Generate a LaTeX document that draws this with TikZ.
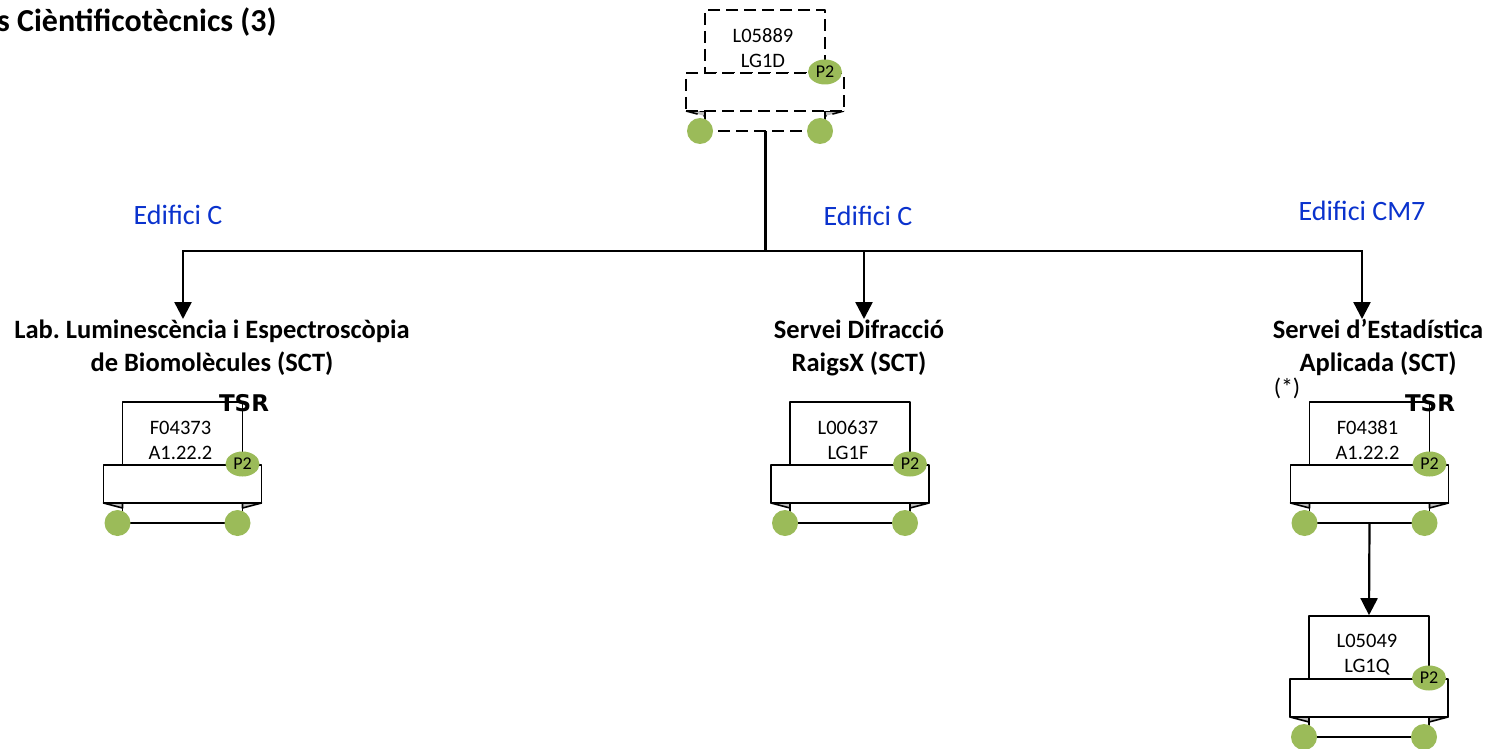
\documentclass[tikz,border=0pt]{standalone}
\usepackage{fontspec}
\setmainfont{Carlito}
\newfontfamily\tsrfont{DejaVu Sans}
\usetikzlibrary{arrows.meta,shapes.geometric}
\definecolor{wgreen}{RGB}{155,187,89}
\definecolor{eblue}{RGB}{10,50,205}
\definecolor{flapgray}{RGB}{190,190,190}
\frenchspacing
\tikzset{
  outl/.style={line width=1.6pt, line join=round},
  paper/.style={draw, fill=white, rectangle, minimum width=120pt, minimum height=63pt, inner sep=0pt, outl},
  band/.style={draw, fill=white, rectangle, minimum width=158pt, minimum height=38pt, inner sep=0pt, outl},
  wheel/.style={circle, fill=wgreen, draw=none, minimum size=26pt, inner sep=0pt},
  ptag/.style={ellipse, fill=wgreen, draw=none, minimum width=34pt, minimum height=25pt, inner sep=0pt, font=\fontsize{18}{20}\selectfont},
  celltext/.style={align=center, inner sep=0pt, font=\fontsize{20.5}{25}\selectfont},
  lbl/.style={align=center, inner sep=0pt, font=\bfseries\fontsize{26.5}{33}\selectfont},
  bldg/.style={text=eblue, inner sep=0pt, font=\fontsize{28}{32}\selectfont},
  tsr/.style={inner sep=0pt, font=\tsrfont\bfseries\fontsize{23}{26}\selectfont},
  trunk/.style={line width=3pt},
  link/.style={line width=2.5pt, -{Triangle[length=17pt,width=17pt]}},
  dashedunit/.style={dash pattern=on 12pt off 6pt}
}
\newcommand\cartunit[6]{%
  \begin{scope}[shift={(#2,#3)}]
    \begin{scope}[#6]
      \node[paper, #6] (#1) at (0,31.5) {};
      \filldraw[outl, fill=flapgray] (-79,101) -- (-60,106) -- (-60,101) -- cycle;
      \filldraw[outl, fill=flapgray] (79,101) -- (60,106) -- (60,101) -- cycle;
      \draw[outl] (-60,101) -- (-60,121) (60,101) -- (60,121);
      \draw[outl] (-65,121) -- (55,121);
      \node[band, #6] (#1-band) at (0,82) {};
    \end{scope}
    \node[celltext] (#1-t) at (-2,38.5) {#4\\#5};
    \node[ptag] (#1-p) at (60,62) {P2};
    \node[wheel] (#1-wl) at (-65,121) {};
    \node[wheel] (#1-wr) at (55,121) {};
    \coordinate (#1-b) at (0,121);
  \end{scope}}
\begin{document}
\begin{tikzpicture}[x=1pt,y=-1pt]
\useasboundingbox (0,0) rectangle (1494,749);

\node[anchor=west, inner sep=0pt, font=\bfseries\fontsize{32}{34}\selectfont] (title) at (-3,22) {s Cièntificotècnics (3)};

\cartunit{top}{765}{10}{L05889}{LG1D}{dashedunit}
\cartunit{ua}{182.5}{402}{F04373}{A1.22.2}{}
\cartunit{ub}{850}{402}{L00637}{LG1F}{}
\cartunit{uc}{1369.5}{402}{F04381}{A1.22.2}{}
\cartunit{ud}{1369}{616}{L05049}{LG1Q}{}

\node[tsr] (tsra) at (244,403) {TSR};
\node[tsr] (tsrc) at (1430,403) {TSR};

\node[bldg] (ba) at (178,215) {Edifici C};
\node[bldg] (bb) at (868,216) {Edifici C};
\node[bldg] (bc) at (1362,211) {Edifici CM7};

\node[lbl] (la) at (212,347.5) {Lab. Luminescència i Espectroscòpia\\de Biomolècules (SCT)};
\node[lbl] (lb) at (859,347.5) {Servei Difracció\\RaigsX (SCT)};
\node[lbl] (lc) at (1378,347.5) {Servei d’Estadística\\Aplicada (SCT)};
\node[inner sep=0pt, font=\fontsize{24}{28}\selectfont] (star) at (1287,388) {(*)};

\coordinate (j) at (765,251);
\coordinate (ea) at (183,319);
\coordinate (eb) at (864,319);
\coordinate (ec) at (1362,319);
\draw[trunk] (top-b) -- (j);
\draw[link] (j) -| (ea);
\draw[link] (j) -| (eb);
\draw[link] (j) -| (ec);
\draw[link, line width=2.2pt] (uc-b) -- (ud.north);
\end{tikzpicture}
\end{document}
